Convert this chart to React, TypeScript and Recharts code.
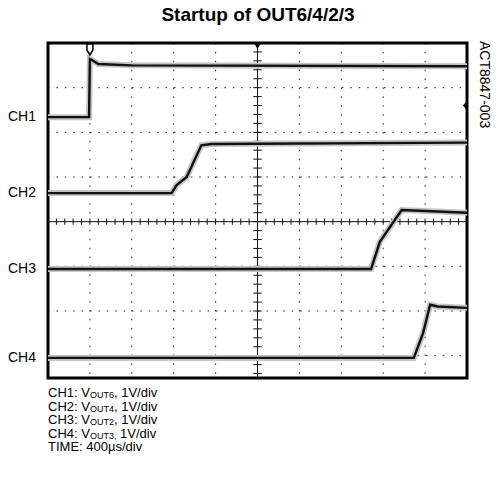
import React from 'react';
import { LineChart, Line, XAxis, YAxis, CartesianGrid, ReferenceLine, ReferenceArea, ReferenceDot } from 'recharts';

// time in µs (400µs/div), level in scope divisions from the bottom edge of the screen
interface Pt {
  t: number;
  v: number;
}

const ch1: Pt[] = [
  { t: 0, v: 5.84 },
  { t: 392, v: 5.84 },
  { t: 400, v: 7.14 },
  { t: 420, v: 7.12 },
  { t: 480, v: 7.03 },
  { t: 800, v: 7.0 },
  { t: 4000, v: 6.98 },
];

const ch2: Pt[] = [
  { t: 0, v: 4.14 },
  { t: 1180, v: 4.14 },
  { t: 1228, v: 4.32 },
  { t: 1324, v: 4.5 },
  { t: 1464, v: 5.21 },
  { t: 1560, v: 5.24 },
  { t: 4000, v: 5.27 },
];

const ch3: Pt[] = [
  { t: 0, v: 2.44 },
  { t: 3084, v: 2.44 },
  { t: 3168, v: 3.05 },
  { t: 3376, v: 3.76 },
  { t: 4000, v: 3.7 },
];

const ch4: Pt[] = [
  { t: 0, v: 0.45 },
  { t: 3492, v: 0.45 },
  { t: 3580, v: 1.0 },
  { t: 3648, v: 1.64 },
  { t: 3720, v: 1.6 },
  { t: 4000, v: 1.57 },
];

const channels = [ch1, ch2, ch3, ch4];
const channelLabels = ['CH1', 'CH2', 'CH3', 'CH4'];
const timeTicks = [400, 800, 1200, 1600, 2400, 2800, 3200, 3600];
const levelTicks = [0.5, 1.5, 2.5, 4.5, 5.5, 6.5];
const notes = [
  ['CH1: V', 'OUT6', ', 1V/div'],
  ['CH2: V', 'OUT4', ', 1V/div'],
  ['CH3: V', 'OUT2', ', 1V/div'],
  ['CH4: V', 'OUT3,', '\u00a01V/div'],
];

const W = 500;
const H = 479;
const M = { top: 43, right: 33, bottom: 101, left: 48 };
const plotH = H - M.top - M.bottom;
const Y_MAX = 7.5;
const font = '"Liberation Sans", Arial, sans-serif';

// small minor ticks along the centre cross (5 per division)
const minorX: number[] = [];
for (let i = 1; i < 50; i++) minorX.push(i * 80);
const minorY: number[] = [];
for (let i = 1; i < 38; i++) minorY.push(i * 0.2 - 0.1);

const yPix = (v: number) => M.top + plotH * (1 - v / Y_MAX);

const App: React.FC = () => {
  return (
    <div style={{ position: 'relative', width: W, height: H, margin: -8, fontFamily: font, background: '#fff' }}>
      <div
        style={{
          position: 'absolute',
          top: 4,
          left: 0,
          width: 516,
          textAlign: 'center',
          fontWeight: 'bold',
          fontSize: 19,
        }}
      >
        Startup of OUT6/4/2/3
      </div>
      <div
        style={{
          position: 'absolute',
          left: 477,
          top: 41,
          fontSize: 14,
          writingMode: 'vertical-rl',
          whiteSpace: 'nowrap',
        }}
      >
        ACT8847-003
      </div>
      {channels.map((c, i) => (
        <div
          key={channelLabels[i]}
          style={{ position: 'absolute', left: 8, top: yPix(c[0].v) - 9, fontSize: 14 }}
        >
          {channelLabels[i]}
        </div>
      ))}
      <div style={{ position: 'absolute', left: 48, top: 386, fontSize: 13 }}>
        {notes.map((n) => (
          <div key={n[0]} style={{ height: 13.6, lineHeight: '13.6px', whiteSpace: 'nowrap' }}>
            {n[0]}
            <span style={{ fontSize: 9, lineHeight: '8px', display: 'inline-block', position: 'relative', top: 1 }}>
              {n[1]}
            </span>
            {n[2]}
          </div>
        ))}
        <div style={{ height: 13.6, lineHeight: '13.6px' }}>TIME: 400µs/div</div>
      </div>
      <div style={{ position: 'absolute', left: 0, top: 0 }}>
        <LineChart width={W} height={H} margin={M}>
          <XAxis type="number" dataKey="t" domain={[0, 4000]} ticks={timeTicks} hide allowDataOverflow />
          <YAxis type="number" dataKey="v" domain={[0, Y_MAX]} ticks={levelTicks} hide allowDataOverflow />
          <CartesianGrid horizontal={false} stroke="#222" strokeWidth={1} strokeDasharray="1.5 7.4" />
          <CartesianGrid vertical={false} stroke="#222" strokeWidth={1} strokeDasharray="1.5 6.9" />
          <ReferenceLine x={2000} stroke="#111" strokeWidth={1} />
          <ReferenceLine y={3.5} stroke="#111" strokeWidth={1} />
          {minorX.map((x) => (
            <ReferenceLine
              key={'mx' + x}
              segment={[
                { x, y: 3.43 },
                { x, y: 3.57 },
              ]}
              stroke="#111"
            />
          ))}
          {minorY.map((y) => (
            <ReferenceLine
              key={'my' + y}
              segment={[
                { x: 1960, y },
                { x: 2040, y },
              ]}
              stroke="#111"
            />
          ))}
          {channels.map((c, i) => (
            <Line
              key={'halo' + i}
              data={c}
              dataKey="v"
              type="linear"
              stroke="#c4c4c4"
              strokeWidth={6}
              dot={false}
              isAnimationActive={false}
            />
          ))}
          {channels.map((c, i) => (
            <Line
              key={'trace' + i}
              data={c}
              dataKey="v"
              type="linear"
              stroke="#111"
              strokeWidth={2.4}
              dot={false}
              isAnimationActive={false}
            />
          ))}
          <ReferenceArea x1={0} x2={4000} y1={0} y2={Y_MAX} fill="none" stroke="#000" strokeWidth={3} />
          <ReferenceDot
            x={400}
            y={Y_MAX}
            shape={(p: any) => (
              <path
                d={`M${p.cx - 3},${p.cy + 1} h6 v6 l-3,5 l-3,-5 z`}
                fill="#fff"
                stroke="#000"
                strokeWidth={1.5}
              />
            )}
          />
          <ReferenceDot
            x={2000}
            y={Y_MAX}
            shape={(p: any) => <path d={`M${p.cx - 3},${p.cy + 1} h6 l-3,5 z`} fill="#000" />}
          />
          <ReferenceDot
            x={4000}
            y={6.1}
            shape={(p: any) => <path d={`M${p.cx - 4},${p.cy} l4,-5 v10 z`} fill="#000" />}
          />
        </LineChart>
      </div>
    </div>
  );
};

export default App;
